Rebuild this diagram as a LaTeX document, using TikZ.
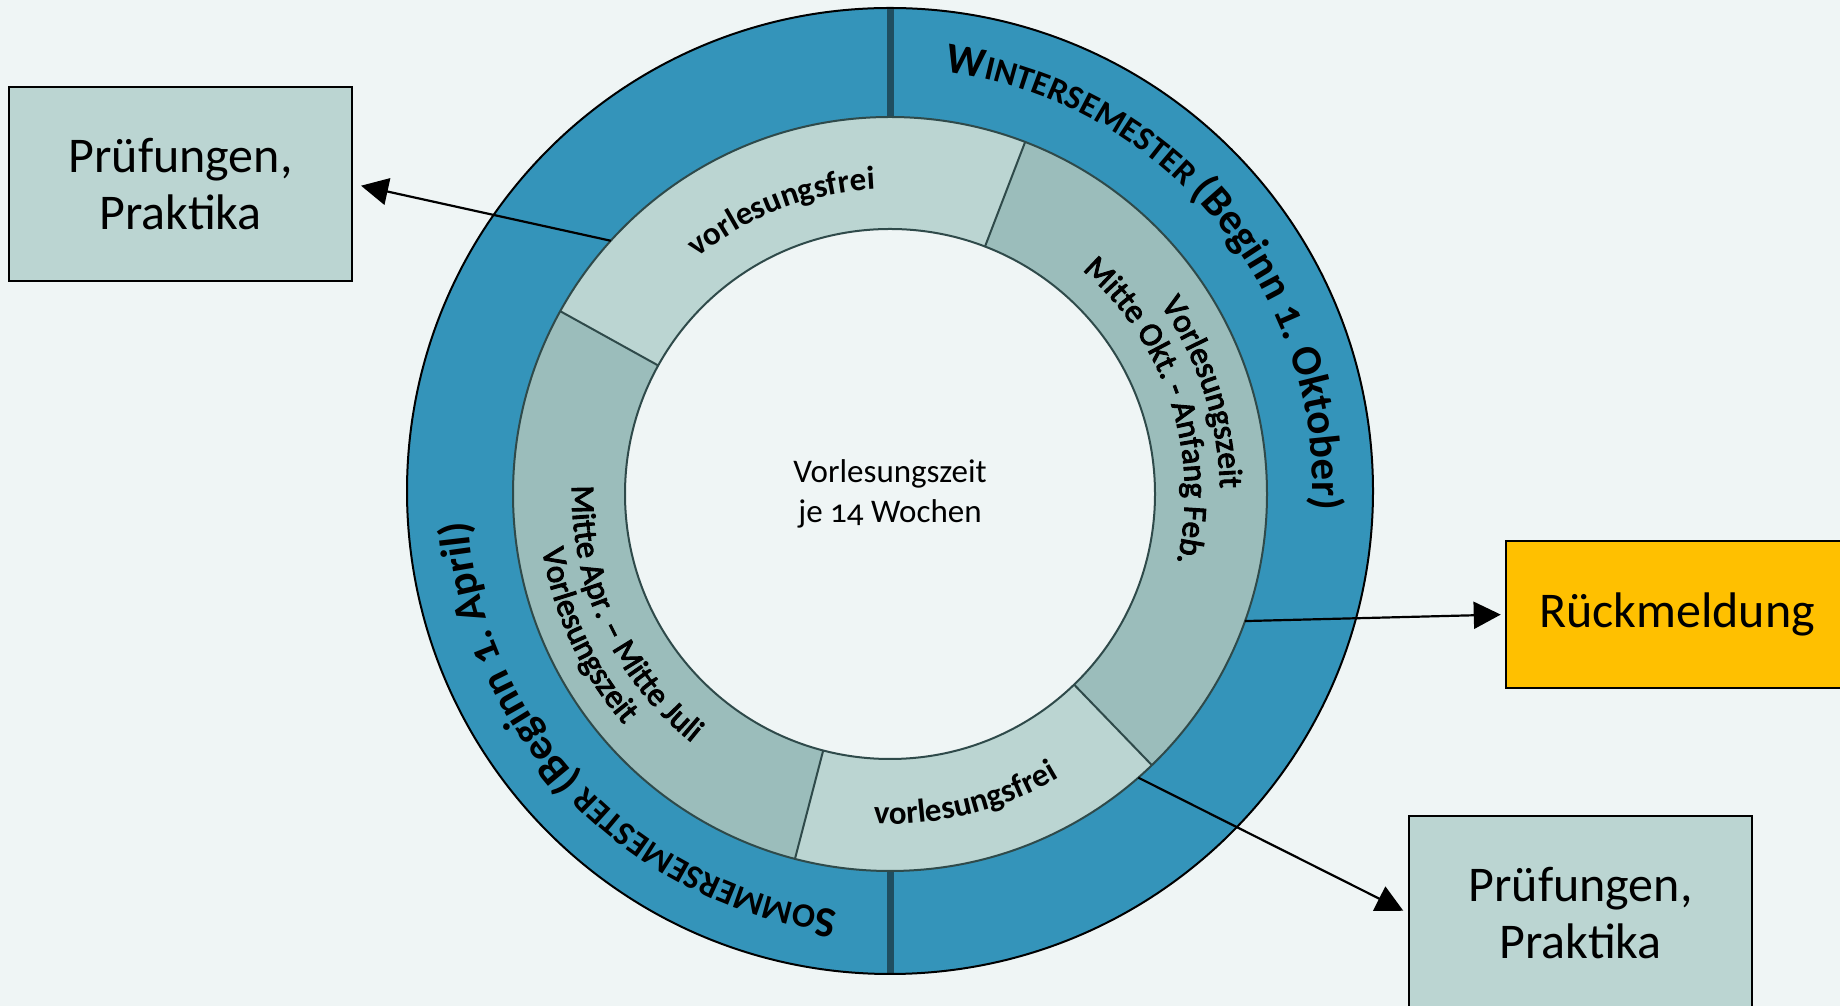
\documentclass[tikz,border=0pt]{standalone}
\usepackage{fontspec}
\setmainfont{Carlito}[Numbers=OldStyle]
\newfontfamily\semib{Carlito}[Numbers=OldStyle,FakeBold=3]
\usetikzlibrary{decorations.text,arrows.meta,calc}
\definecolor{bg}{HTML}{EFF5F5}
\definecolor{ringblue}{HTML}{3494BA}
\definecolor{lightteal}{HTML}{BBD5D2}
\definecolor{darkteal}{HTML}{9BBDBB}
\definecolor{divider}{HTML}{1F4E60}
\definecolor{edge}{HTML}{2F4A4A}
\definecolor{gold}{HTML}{FFC000}
\begin{document}
\begin{tikzpicture}[x=1pt,y=1pt,
  panel/.style={draw=black,line width=2.5pt,minimum width=343pt,minimum height=194pt,inner sep=0pt,align=center,font=\fontsize{50}{57}\selectfont,fill=lightteal},
  flow/.style={line width=2.2pt,-{Triangle[length=27pt,width=27pt]}},
  ringedge/.style={draw=edge,line width=2pt},
  arctext/.style={decorate,decoration={text along path,text align=center,text={#1}}}
]
\clip (0,0) rectangle (1840,1006);
\fill[bg] (0,0) rectangle (1840,1006);
\coordinate (O) at (890,515);
\coordinate (C) at (890,512);

% outer ring
\fill[ringblue] (O) circle[radius=483];
\draw[divider,line width=7pt] ([shift={(90:482)}]O) -- ([shift={(90:377)}]C);
\draw[divider,line width=7pt] ([shift={(270:482)}]O) -- ([shift={(270:377)}]C);
\draw[black,line width=2pt] (O) circle[radius=483];

% middle ring segments
\fill[lightteal] ([shift={(151:377)}]C) arc[start angle=151,end angle=69,radius=377] -- ([shift={(69:265)}]C) arc[start angle=69,end angle=151,radius=265] -- cycle;
\fill[darkteal] ([shift={(69:377)}]C) arc[start angle=69,end angle=-46,radius=377] -- ([shift={(-46:265)}]C) arc[start angle=-46,end angle=69,radius=265] -- cycle;
\fill[lightteal] ([shift={(-46:377)}]C) arc[start angle=-46,end angle=-104.6,radius=377] -- ([shift={(-104.6:265)}]C) arc[start angle=-104.6,end angle=-46,radius=265] -- cycle;
\fill[darkteal] ([shift={(-104.6:377)}]C) arc[start angle=-104.6,end angle=-209,radius=377] -- ([shift={(-209:265)}]C) arc[start angle=-209,end angle=-104.6,radius=265] -- cycle;
\foreach \a in {69,-46,-104.6,151}
  \draw[edge,line width=2pt] ([shift={(\a:265)}]C) -- ([shift={(\a:377)}]C);
\fill[bg] (C) circle[radius=265];
\draw[ringedge] (C) circle[radius=377];
\draw[ringedge] (C) circle[radius=265];

% centre text
\node[align=center,font=\fontsize{33}{40}\selectfont] (mid) at (C) {Vorlesungszeit\\je 14 Wochen};

% outer ring texts
\path[arctext={|\fontsize{43}{43}\selectfont\bfseries|W|\fontsize{34}{34}\selectfont\bfseries|INTERSEMESTER |\fontsize{43}{43}\selectfont\bfseries|(Beginn 1. Oktober)}]
  ([shift={(95:423)}]O) arc[start angle=95,end angle=-15,radius=423];
\path[arctext={|\fontsize{43}{43}\selectfont\bfseries|S|\fontsize{34}{34}\selectfont\bfseries|OMMERSEMESTER |\fontsize{43}{43}\selectfont\bfseries|(Beginn 1. April)}]
  ([shift={(-81.5:423)}]O) arc[start angle=-81.5,end angle=-191.5,radius=423];

% middle ring texts
\path[arctext={|\fontsize{33}{33}\selectfont\bfseries|vorlesungsfrei}]
  ([shift={(151:305)}]C) arc[start angle=151,end angle=71,radius=305];
\path[arctext={|\fontsize{33}{33}\selectfont\bfseries|vorlesungsfrei}]
  ([shift={(-116:330)}]C) arc[start angle=-116,end angle=-36,radius=330];
\path[arctext={|\semib\fontsize{33}{33}\selectfont|Vorlesungszeit}]
  ([shift={(63:330)}]C) arc[start angle=63,end angle=-27,radius=330];
\path[arctext={|\semib\fontsize{33}{33}\selectfont|Mitte Okt. - Anfang Feb.}]
  ([shift={(68:295)}]C) arc[start angle=68,end angle=-32,radius=295];
\path[arctext={|\semib\fontsize{33}{33}\selectfont|Mitte Apr. – Mitte Juli}]
  ([shift={(155:318)}]C) arc[start angle=155,end angle=255,radius=318];
\path[arctext={|\semib\fontsize{33}{33}\selectfont|Vorlesungszeit}]
  ([shift={(160:352)}]C) arc[start angle=160,end angle=250,radius=352];

% boxes
\node[panel] (pl) at (180.5,822) {Prüfungen,\\Praktika};
\node[panel,fill=gold,minimum width=342pt,minimum height=147pt] (rm) at (1677,391.5) {Rückmeldung};
\node[panel] (pr) at (1580.5,93) {Prüfungen,\\Praktika};

% arrows
\coordinate (a1) at ([shift={(137.8:377)}]C);
\coordinate (a2) at ([shift={(-19.7:377)}]C);
\coordinate (a3) at ([shift={(-48.8:377)}]C);
\draw[flow,shorten >=8pt] (a1) -- (pl.east);
\draw[flow,shorten >=4pt] (a2) -- (rm.west);
\draw[flow,shorten >=5pt] (a3) -- (pr.west);
\end{tikzpicture}
\end{document}
